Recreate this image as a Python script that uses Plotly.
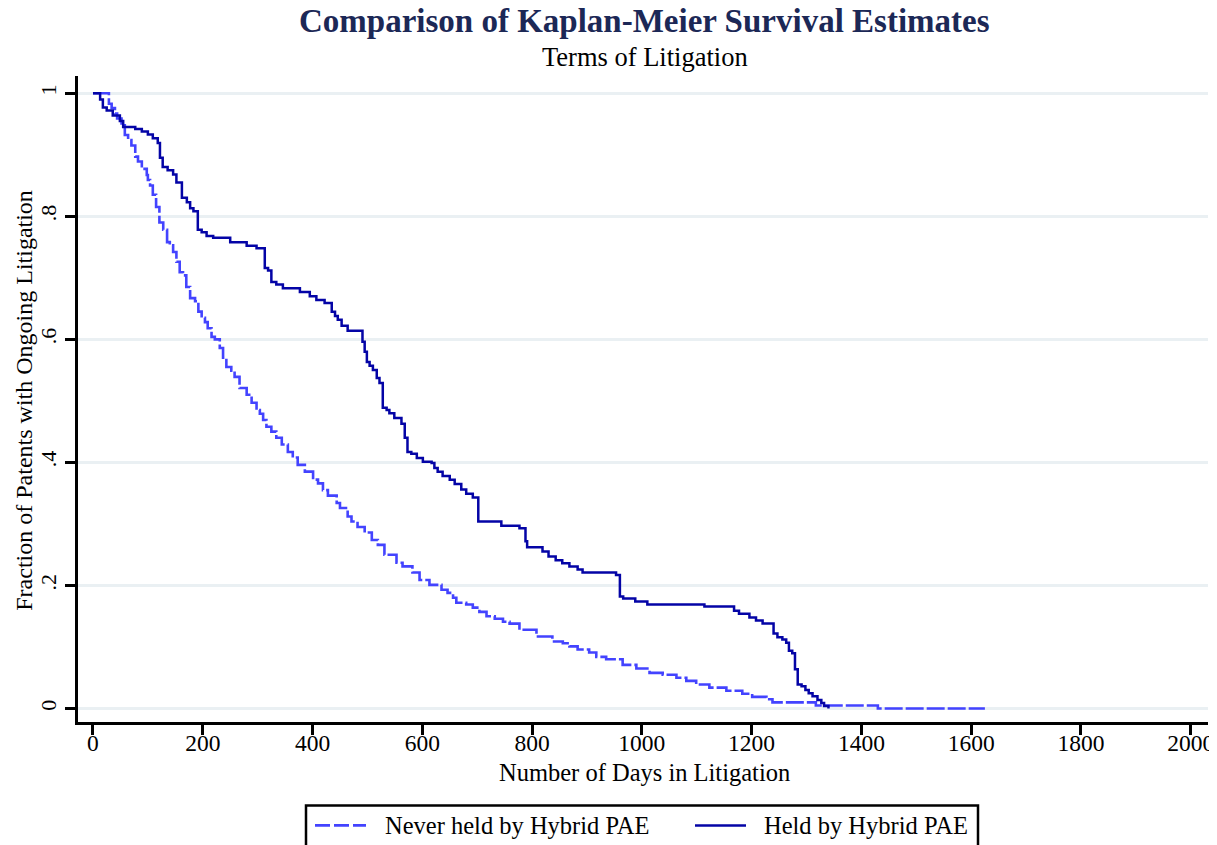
import plotly.graph_objects as go

# ---------------- data ----------------
never_days = [0, 29, 34, 40, 44, 52, 58, 64, 70, 77, 82, 89, 98, 100, 104, 109, 115, 121, 128,
              135, 140, 146, 152, 158, 164, 170, 177, 186, 192, 198, 204, 209, 216, 222, 231,
              237, 243, 252, 258, 267, 280, 289, 298, 304, 310, 316, 325, 334, 344, 355, 364,
              373, 386, 401, 410, 419, 428, 444, 450, 464, 471, 482, 495, 508, 519, 531, 553,
              564, 582, 595, 613, 635, 646, 656, 662, 680, 692, 704, 717, 732, 747, 759, 777,
              808, 837, 856, 868, 883, 904, 917, 935, 965, 990, 1014, 1038, 1063, 1081, 1099,
              1123, 1154, 1183, 1201, 1227, 1238, 1317, 1430, 1625]
never_surv = [1.0, 0.983, 0.976, 0.967, 0.959, 0.948, 0.932, 0.924, 0.915, 0.897, 0.889, 0.877,
              0.867, 0.859, 0.850, 0.835, 0.815, 0.790, 0.778, 0.758, 0.753, 0.742, 0.726, 0.709,
              0.704, 0.685, 0.667, 0.662, 0.645, 0.635, 0.628, 0.618, 0.604, 0.600, 0.586, 0.570,
              0.555, 0.549, 0.539, 0.521, 0.510, 0.497, 0.485, 0.479, 0.469, 0.458, 0.450, 0.440,
              0.429, 0.417, 0.408, 0.396, 0.385, 0.372, 0.366, 0.355, 0.346, 0.334, 0.326, 0.312,
              0.304, 0.295, 0.286, 0.274, 0.266, 0.250, 0.237, 0.231, 0.221, 0.209, 0.201, 0.193,
              0.188, 0.180, 0.172, 0.169, 0.164, 0.157, 0.150, 0.146, 0.141, 0.138, 0.128, 0.117,
              0.109, 0.106, 0.101, 0.096, 0.091, 0.084, 0.080, 0.071, 0.065, 0.058, 0.055, 0.050,
              0.045, 0.039, 0.034, 0.029, 0.024, 0.019, 0.015, 0.010, 0.005, 0.0, 0.0]

held_days = [0, 13, 18, 25, 36, 49, 55, 77, 89, 100, 109, 118, 122, 127, 136, 146, 152, 162, 171,
             177, 183, 191, 198, 207, 219, 250, 280, 298, 313, 319, 325, 334, 346, 377, 395, 407,
             422, 435, 441, 446, 453, 464, 491, 495, 499, 504, 510, 517, 522, 528, 535, 540, 549,
             562, 568, 573, 580, 590, 601, 617, 622, 628, 637, 650, 659, 671, 680, 692, 702, 744,
             777, 788, 791, 819, 830, 843, 855, 868, 883, 892, 953, 960, 966, 988, 1010, 1114,
             1168, 1177, 1196, 1208, 1220, 1240, 1247, 1256, 1263, 1268, 1274, 1279, 1284, 1291,
             1298, 1304, 1311, 1320, 1327, 1332, 1340]
held_surv = [1.0, 0.990, 0.977, 0.972, 0.964, 0.955, 0.945, 0.942, 0.938, 0.933, 0.927, 0.919,
             0.895, 0.880, 0.875, 0.868, 0.855, 0.830, 0.823, 0.813, 0.808, 0.778, 0.774, 0.768,
             0.765, 0.758, 0.752, 0.748, 0.716, 0.712, 0.693, 0.689, 0.683, 0.677, 0.670, 0.664,
             0.659, 0.645, 0.638, 0.632, 0.622, 0.614, 0.596, 0.580, 0.563, 0.557, 0.550, 0.537,
             0.529, 0.489, 0.485, 0.480, 0.472, 0.463, 0.440, 0.417, 0.414, 0.407, 0.401, 0.399,
             0.391, 0.385, 0.378, 0.372, 0.365, 0.356, 0.349, 0.343, 0.304, 0.297, 0.293, 0.272,
             0.262, 0.255, 0.247, 0.241, 0.236, 0.231, 0.226, 0.221, 0.217, 0.182, 0.179, 0.174,
             0.169, 0.166, 0.159, 0.154, 0.148, 0.143, 0.138, 0.122, 0.116, 0.112, 0.107, 0.094,
             0.090, 0.064, 0.039, 0.036, 0.030, 0.025, 0.020, 0.014, 0.009, 0.004, 0.0]

x_ticks = [0, 200, 400, 600, 800, 1000, 1200, 1400, 1600, 1800, 2000]
y_ticks = [0, 0.2, 0.4, 0.6, 0.8, 1.0]
y_tick_labels = ["0", ".2", ".4", ".6", ".8", "1"]

series_names = ["Never held by Hybrid PAE", "Held by Hybrid PAE"]
title_text = "Comparison of Kaplan-Meier Survival Estimates"
subtitle_text = "Terms of Litigation"
x_title = "Number of Days in Litigation"
y_title = "Fraction of Patents with Ongoing Litigation"

# ---------------- styling / layout ----------------
# The page body adds an 8px margin, so the figure is shifted by 8px and all
# pixel positions below are page positions minus 8.
OFF = 8
W, H = 1217 - OFF, 845 - OFF
L, R, T, B = 78 - OFF, 1208 - OFF, 76 - OFF, 722.5 - OFF
FONT = "Liberation Serif"
LIGHT = "#4343FF"
DARK = "#0404A6"
GRID = "#EAF0F3"


def px(xp):
    return (xp - OFF - L) / (R - L)


def py(yp):
    return (B - (yp - OFF)) / (B - T)


fig = go.Figure()
fig.add_trace(go.Scatter(x=never_days, y=never_surv, mode="lines", line_shape="hv",
                         name=series_names[0],
                         line=dict(color=LIGHT, width=2.6, dash="18px,3px")))
fig.add_trace(go.Scatter(x=held_days, y=held_surv, mode="lines", line_shape="hv",
                         name=series_names[1],
                         line=dict(color=DARK, width=2.5)))

annotations = [
    dict(text="<b>%s</b>" % title_text, x=0.5 * (px(78) + px(1211)), y=py(21),
         xref="paper", yref="paper",
         showarrow=False, xanchor="center", yanchor="middle",
         font=dict(family=FONT, size=33, color="#1C2856")),
    dict(text=subtitle_text, x=0.5 * (px(78) + px(1211)), y=py(57), xref="paper", yref="paper",
         showarrow=False, xanchor="center", yanchor="middle",
         font=dict(family=FONT, size=26.5, color="black")),
    dict(text=x_title, x=px(644), y=py(773), xref="paper", yref="paper",
         showarrow=False, xanchor="center", yanchor="middle",
         font=dict(family=FONT, size=24.5, color="black")),
    dict(text=y_title, x=px(24), y=py(401), xref="paper", yref="paper",
         showarrow=False, xanchor="center", yanchor="middle", textangle=-90,
         font=dict(family=FONT, size=24, color="black")),
    dict(text=series_names[0], x=px(383), y=py(826), xref="paper", yref="paper",
         showarrow=False, xanchor="left", yanchor="middle",
         font=dict(family=FONT, size=24.5, color="black")),
    dict(text=series_names[1], x=px(762), y=py(826), xref="paper", yref="paper",
         showarrow=False, xanchor="left", yanchor="middle",
         font=dict(family=FONT, size=24.5, color="black")),
]

shapes = [
    dict(type="rect", xref="paper", yref="paper", x0=px(306), x1=px(978),
         y0=py(806), y1=py(870), line=dict(color="black", width=2.5), fillcolor="rgba(0,0,0,0)"),
    dict(type="line", xref="paper", yref="paper", x0=px(315), x1=px(366),
         y0=py(826), y1=py(826), line=dict(color=LIGHT, width=2.6, dash="15px,4px")),
    dict(type="line", xref="paper", yref="paper", x0=px(695), x1=px(746),
         y0=py(826), y1=py(826), line=dict(color=DARK, width=2.5)),
]

fig.update_layout(
    width=W, height=H,
    margin=dict(l=L, r=W - R, t=T, b=H - B, autoexpand=False),
    paper_bgcolor="white", plot_bgcolor="white",
    showlegend=False,
    annotations=annotations,
    shapes=shapes,
    font=dict(family=FONT, size=24, color="black"),
)

fig.update_xaxes(range=[-27.3, 2031.5], tickvals=x_ticks,
                 ticks="outside", ticklen=10, tickwidth=3, tickcolor="black",
                 ticklabelstandoff=-12,
                 showline=True, linecolor="black", linewidth=3,
                 showgrid=False, zeroline=False,
                 tickfont=dict(family=FONT, size=23.5, color="black"))
fig.update_yaxes(range=[-0.0219, 1.028], tickvals=y_ticks, ticktext=y_tick_labels,
                 tickangle=-90,
                 ticks="outside", ticklen=10, tickwidth=3, tickcolor="black",
                 showline=True, linecolor="black", linewidth=3,
                 showgrid=True, gridcolor=GRID, gridwidth=2.5, zeroline=False,
                 tickfont=dict(family=FONT, size=22, color="black"))

fig.write_html("out.html")
